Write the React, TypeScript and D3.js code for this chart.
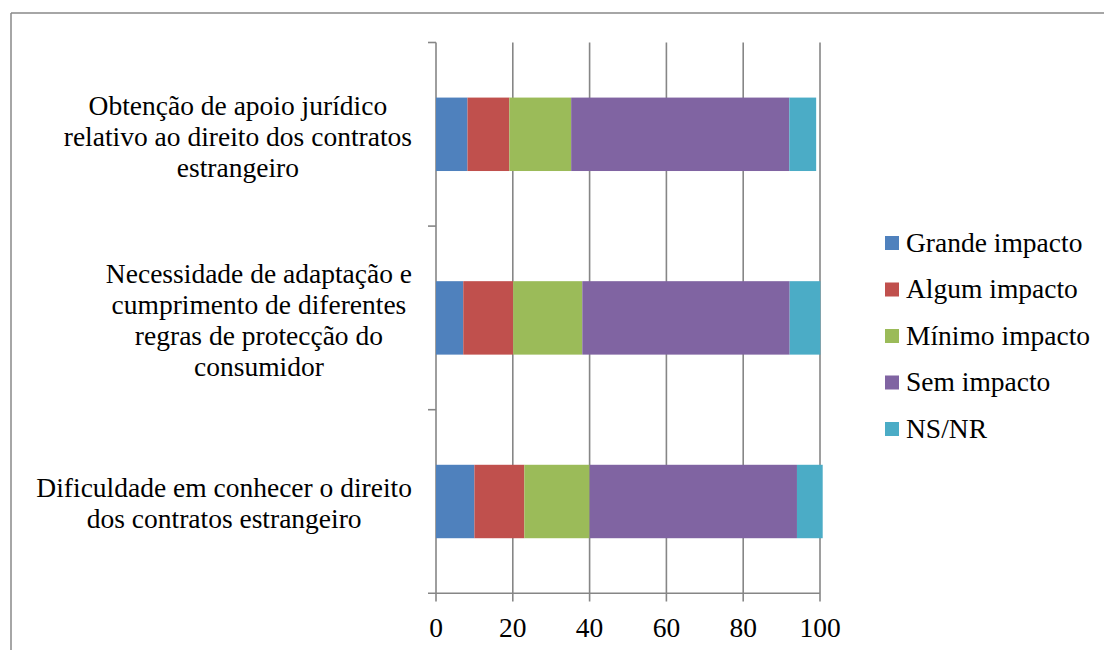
import React from "react";
import * as d3 from "d3";

const categories: string[][] = [
  ["Obtenção de apoio jurídico", "relativo ao direito dos contratos", "estrangeiro"],
  ["Necessidade de adaptação e", "cumprimento de diferentes", "regras de protecção do", "consumidor"],
  ["Dificuldade em conhecer o direito", "dos contratos estrangeiro"],
];
const seriesNames = ["Grande impacto", "Algum impacto", "Mínimo impacto", "Sem impacto", "NS/NR"];
const colors = ["#4F81BD", "#C0504D", "#9BBB59", "#8064A2", "#4BACC6"];
const grande = [8.2, 7.1, 10];
const algum = [10.9, 13, 13];
const minimo = [16.1, 18, 17];
const sem = [56.8, 54, 54];
const nsnr = [7, 8, 6.7];
const xTicks = [0, 20, 40, 60, 80, 100];

const FONT = "Liberation Serif";
const FS = 27.5;

let ctx: CanvasRenderingContext2D | null = null;
function measure(t: string) {
  if (!ctx) {
    const c = document.createElement("canvas");
    ctx = c.getContext("2d");
  }
  if (!ctx) return t.length * FS * 0.45;
  ctx.font = `${FS}px "${FONT}"`;
  return ctx.measureText(t).width;
}

export default function App() {
  const W = 1104, H = 650;
  const x = d3.scaleLinear().domain([0, 100]).range([436, 820]);
  const y = d3.scaleBand<number>().domain([0, 1, 2]).range([42.5, 593.3]).padding(0);
  const barH = y.bandwidth() * 0.4;
  const table = categories.map((_, i) => ({
    i,
    v0: grande[i], v1: algum[i], v2: minimo[i], v3: sem[i], v4: nsnr[i],
  }));
  const stack = d3.stack<any>().keys(["v0", "v1", "v2", "v3", "v4"])(table);
  const gridColor = "#868686";
  const labelRight = 412;
  const lineH = 31;

  return (
    <svg width={W} height={H} style={{ position: "absolute", left: 0, top: 0, background: "#fff" }}
      fontFamily={FONT}>
      <rect x={0} y={0} width={W} height={H} fill="#fff" />
      {/* frame */}
      <line x1={11} y1={13} x2={W} y2={13} stroke="#888" strokeWidth={1.5} />
      <line x1={11} y1={13} x2={11} y2={H} stroke="#888" strokeWidth={1.5} />
      {/* gridlines */}
      {xTicks.map((t) => (
        <line key={"g" + t} x1={x(t)} x2={x(t)} y1={42.5} y2={601.5} stroke={gridColor} strokeWidth={1.6} />
      ))}
      {/* category axis ticks */}
      {[0, 1, 2].map((i) => (
        <line key={"ct" + i} x1={428} x2={436} y1={y(i)!} y2={y(i)!} stroke={gridColor} strokeWidth={1.6} />
      ))}
      <line x1={428} x2={820} y1={593.3} y2={593.3} stroke={gridColor} strokeWidth={1.6} />
      {/* bars */}
      {stack.map((s, k) => (
        <g key={k} fill={colors[k]}>
          {s.map((d, i) => (
            <rect key={i} x={x(d[0])} width={x(d[1]) - x(d[0])}
              y={y(i)! + (y.bandwidth() - barH) / 2} height={barH} />
          ))}
        </g>
      ))}
      {/* x tick labels */}
      {xTicks.map((t) => (
        <text key={"tl" + t} x={x(t)} y={636.5} textAnchor="middle" fontSize={FS} fill="#000">{t}</text>
      ))}
      {/* category labels */}
      {categories.map((lines, i) => {
        const maxW = Math.max(...lines.map(measure));
        const cx = labelRight - maxW / 2;
        const c = y(i)! + y.bandwidth() / 2 + 3;
        return (
          <text key={"cl" + i} textAnchor="middle" fontSize={FS} fill="#000">
            {lines.map((l, j) => (
              <tspan key={j} x={cx} y={c + (j - (lines.length - 1) / 2) * lineH} dy="0.3em">{l}</tspan>
            ))}
          </text>
        );
      })}
      {/* legend */}
      {seriesNames.map((n, k) => (
        <g key={"lg" + k} transform={`translate(885, ${236 + k * 46.5})`}>
          <rect x={0} y={0} width={14} height={14} fill={colors[k]} />
          <text x={21} y={15.5} fontSize={FS} fill="#000">{n}</text>
        </g>
      ))}
    </svg>
  );
}
